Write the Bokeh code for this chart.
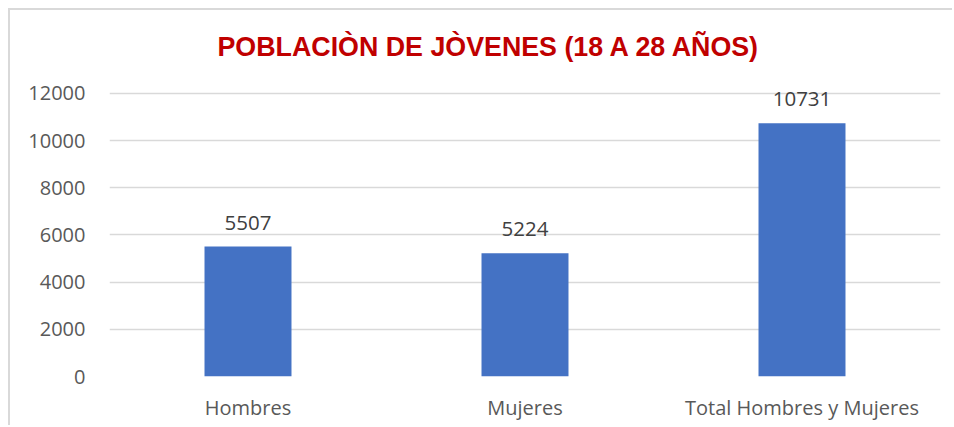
from bokeh.plotting import figure
from bokeh.models import ColumnDataSource, Title, FixedTicker, Range1d
from bokeh.embed import file_html
from bokeh.resources import INLINE
from bokeh.core.properties import value

categories = ["Hombres", "Mujeres", "Total Hombres y Mujeres"]
values = [5507, 5224, 10731]
labels = [str(v) for v in values]
y_ticks = [0, 2000, 4000, 6000, 8000, 10000, 12000]

src = ColumnDataSource(dict(cat=categories, val=values, lab=labels))

p = figure(x_range=categories, y_range=Range1d(0, 12630), width=944, height=417,
           output_backend="svg", toolbar_location=None,
           min_border_left=99, min_border_right=14, min_border_top=68, min_border_bottom=51)
p.styles = {"border-left": "2px solid #d9d9d9", "border-top": "2px solid #d9d9d9",
            "margin-left": "8px", "margin-top": "8px"}
p.outline_line_color = None
p.background_fill_color = "white"

p.vbar(x="cat", top="val", width=0.314, source=src, fill_color="#4472C4", line_color=None)
p.text(x="cat", y="val", text="lab", source=src, text_align="center", text_baseline="bottom",
       y_offset=-17, text_font=value("Open Sans"), text_font_size="20.5px", text_color="#404040")

t = Title(text="POBLACIÒN DE JÒVENES (18 A 28 AÑOS)", align="left", offset=108,
          text_font="Liberation Sans", text_font_size="26.8px", text_font_style="bold",
          text_color="#C00000", standoff=34)
p.add_layout(t, "above")

p.yaxis.ticker = FixedTicker(ticks=y_ticks)
for ax in (p.xaxis, p.yaxis):
    ax.axis_line_color = None
    ax.major_tick_line_color = None
    ax.minor_tick_line_color = None
    ax.major_tick_in = 0
    ax.major_tick_out = 0
    ax.minor_tick_out = 0
    ax.major_label_text_font = "Open Sans"
    ax.major_label_text_font_size = "20px"
    ax.major_label_text_color = "#595959"
p.yaxis.major_label_standoff = 24
p.xaxis.major_label_standoff = 17

p.xgrid.grid_line_color = None
p.ygrid.grid_line_color = "#d9d9d9"
p.ygrid.grid_line_width = 1.5

open("out.html", "w").write(file_html(p, INLINE))
